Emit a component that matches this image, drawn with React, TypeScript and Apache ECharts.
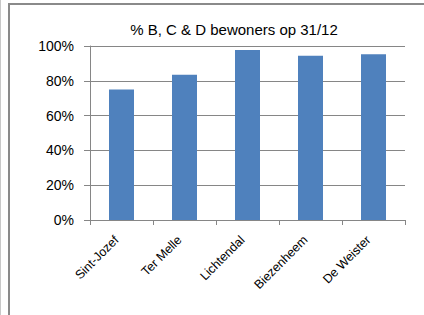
import React, { useEffect, useRef } from "react";
import * as echarts from "echarts";

const categories = ["Sint-Jozef", "Ter Melle", "Lichtendal", "Biezenheem", "De Weister"];
const values = [0.75, 0.835, 0.977, 0.944, 0.953];
const titleText = "% B, C & D bewoners op 31/12";

export default function App() {
  const ref = useRef<HTMLDivElement>(null);
  useEffect(() => {
    if (!ref.current) return;
    const chart = echarts.init(ref.current, null, { renderer: "svg" });
    chart.setOption({
      animation: false,
      backgroundColor: "#ffffff",
      title: {
        text: titleText,
        left: 229,
        top: 17,
        textAlign: "center",
        textStyle: { fontFamily: "Liberation Sans", fontSize: 15, fontWeight: "normal", color: "#000" },
      },
      graphic: [
        { type: "rect", shape: { x: 9, y: 4, width: 500, height: 400 }, style: { fill: "none", stroke: "#8a8a8a", lineWidth: 2 } },
        { type: "line", shape: { x1: 0.5, y1: 0, x2: 0.5, y2: 315 }, style: { stroke: "#c8c8c8", lineWidth: 1 } },
      ],
      grid: { left: 90, top: 46, right: 19, bottom: 95, containLabel: false },
      xAxis: {
        type: "category",
        data: categories,
        axisLine: { lineStyle: { color: "#868686", width: 1 } },
        axisTick: { show: true, length: 5, alignWithLabel: false, lineStyle: { color: "#868686" } },
        axisLabel: {
          rotate: 45,
          margin: 13,
          padding: [0, 7, 0, 0],
          fontFamily: "Liberation Sans",
          fontSize: 12.5,
          color: "#000",
          interval: 0,
        },
      },
      yAxis: {
        type: "value",
        min: 0,
        max: 1,
        interval: 0.2,
        axisLine: { show: true, lineStyle: { color: "#868686", width: 1 } },
        axisTick: { show: true, length: 6, lineStyle: { color: "#868686" } },
        splitLine: { lineStyle: { color: "#868686", width: 1 } },
        axisLabel: {
          margin: 16,
          fontFamily: "Liberation Sans",
          fontSize: 14,
          color: "#000",
          formatter: (v: number) => Math.round(v * 100) + "%",
        },
      },
      series: [
        {
          type: "bar",
          data: values,
          barWidth: 25,
          itemStyle: { color: "#4F81BD" },
        },
      ],
    });
    return () => chart.dispose();
  }, []);
  return <div ref={ref} style={{ position: "fixed", left: 0, top: 0, width: 424, height: 315 }} />;
}
